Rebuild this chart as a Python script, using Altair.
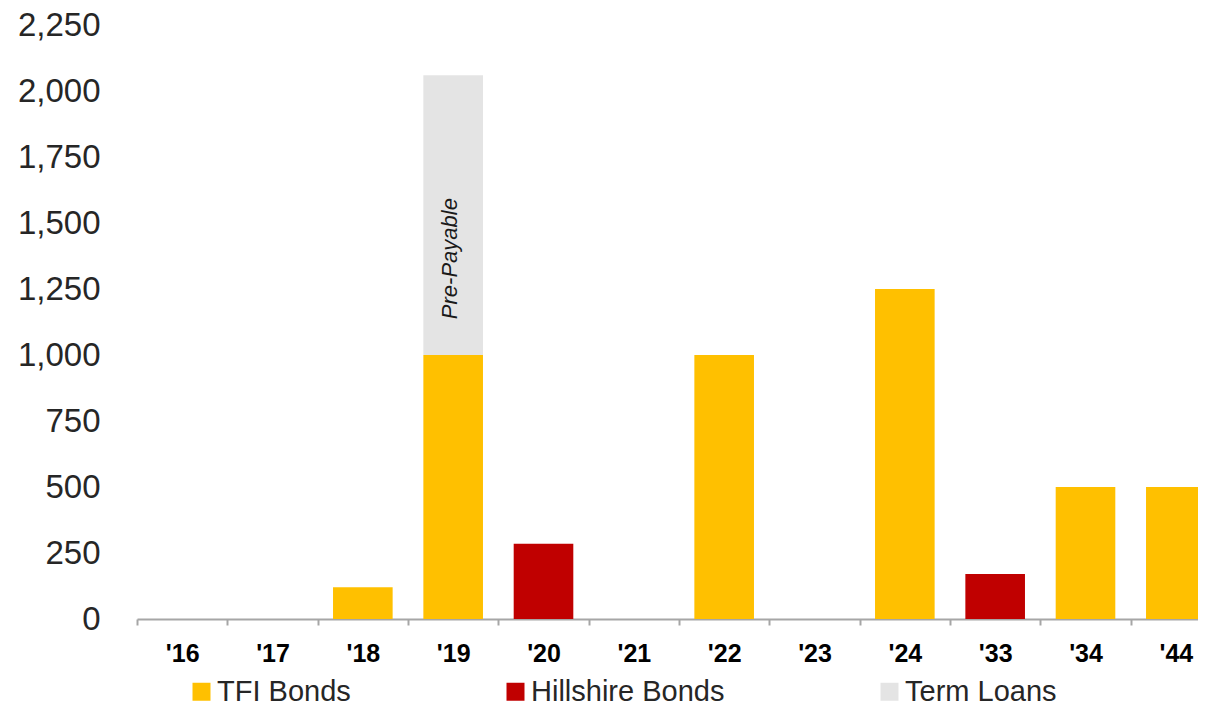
import altair as alt
import pandas as pd

years = ["'16", "'17", "'18", "'19", "'20", "'21", "'22", "'23", "'24", "'33", "'34", "'44"]
tfi_bonds = [0, 0, 120, 1000, 0, 0, 1000, 0, 1250, 0, 500, 500]
hillshire_bonds = [0, 0, 0, 0, 285, 0, 0, 0, 0, 170, 0, 0]
term_loans = [0, 0, 0, 1060, 0, 0, 0, 0, 0, 0, 0, 0]

series_names = ["TFI Bonds", "Hillshire Bonds", "Term Loans"]
series_colors = ["#FFC000", "#C00000", "#E4E4E4"]

note_text = ["Pre-Payable"]
note_year = ["'19"]
note_value = [1365]

rows = []
for name, vals in zip(series_names, [tfi_bonds, hillshire_bonds, term_loans]):
    for y, v in zip(years, vals):
        if v > 0:
            rows.append({"year": y, "series": name, "value": v,
                         "order": series_names.index(name)})
df = pd.DataFrame(rows)
notes = pd.DataFrame({"year": note_year, "value": note_value, "text": note_text})

FONT = "Liberation Sans"

x_scale = alt.Scale(domain=years, range=[0, 1084], paddingInner=0, paddingOuter=0)
y_scale = alt.Scale(domain=[0, 2250], nice=False)

bars = alt.Chart(df).mark_bar(width=alt.RelativeBandSize(0.66)).encode(
    x=alt.X("year:N", scale=x_scale, sort=years,
            axis=alt.Axis(title=None, domain=True, domainColor="#A6A6A6", domainWidth=2,
                          ticks=True, tickColor="#A6A6A6", tickWidth=2, tickSize=6,
                          tickBand="extent", labelAngle=0, labelFont=FONT,
                          labelFontSize=25, labelFontWeight="bold", labelColor="#000000",
                          labelPadding=16, grid=False)),
    y=alt.Y("value:Q", scale=y_scale, stack="zero",
            axis=alt.Axis(title=None, domain=False, ticks=False, grid=False,
                          values=list(range(0, 2251, 250)), format=",d",
                          labelFont=FONT, labelFontSize=33, labelColor="#262626",
                          labelPadding=37, labelFlush=False)),
    color=alt.Color("series:N",
                    scale=alt.Scale(domain=series_names, range=series_colors),
                    legend=alt.Legend(title=None, orient="none", direction="horizontal",
                                      legendX=50, legendY=652, padding=0,
                                      symbolType="square", symbolSize=324,
                                      symbolStrokeWidth=0, symbolOpacity=1,
                                      labelFont=FONT, labelFontSize=29,
                                      labelColor="#262626", labelOffset=1,
                                      columnPadding=150, labelLimit=400)),
    order=alt.Order("order:Q"),
)

text = alt.Chart(notes).mark_text(
    angle=270, font=FONT, fontSize=22, fontStyle="italic", color="#1A1A1A",
    align="center", baseline="middle", xOffset=-3,
).encode(
    x=alt.X("year:N", scale=x_scale, sort=years),
    y=alt.Y("value:Q", scale=y_scale),
    text="text:N",
)

chart = alt.layer(bars, text).properties(
    width=1061, height=594,
    autosize=alt.AutoSizeParams(type="none"),
    padding={"left": 129, "top": 17, "right": 0, "bottom": 84},
).configure_view(stroke=None)

chart.save("out.html", embed_options={"renderer": "svg", "actions": False})
